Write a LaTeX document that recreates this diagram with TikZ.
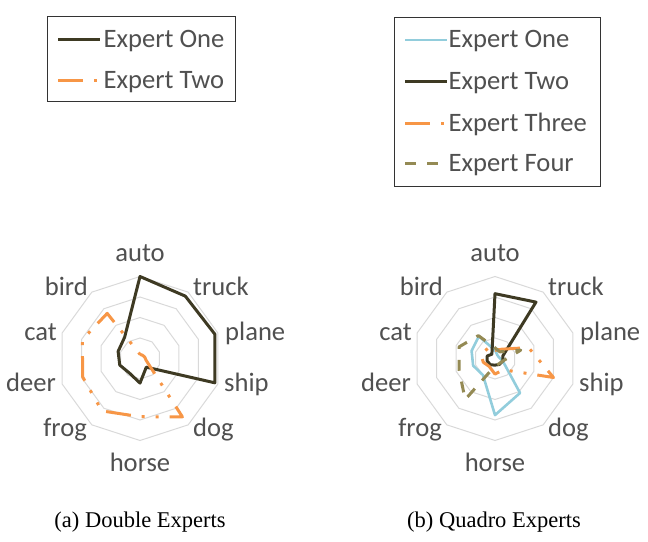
\documentclass[tikz,border=0pt]{standalone}
\usepackage{fontspec}
\setmainfont{Carlito}
\newfontfamily\capfont{Liberation Serif}
\definecolor{txtgray}{RGB}{80,80,80}
\definecolor{gridgray}{RGB}{217,217,217}
\definecolor{darkolive}{RGB}{62,58,35}
\definecolor{orangeline}{RGB}{247,150,70}
\definecolor{lightblueline}{RGB}{146,205,220}
\definecolor{oliveline}{RGB}{148,138,84}
\newcommand\radargrid{%
  \foreach \r in {20.5,41,61.5,82}{%
    \draw[gridline] (90:\r) -- (54:\r) -- (18:\r) -- (-18:\r) -- (-54:\r) -- (-90:\r) -- (-126:\r) -- (-162:\r) -- (162:\r) -- (126:\r) -- cycle;}}
\newcommand\radarlabels[1]{%
  \node[lbl, anchor=base] (#1auto) at (0,97) {auto};
  \node[lbl, anchor=base west] (#1truck) at (53,62.5) {truck};
  \node[lbl, anchor=base west] (#1plane) at (85,17.5) {plane};
  \node[lbl, anchor=base west] (#1ship) at (84,-33.5) {ship};
  \node[lbl, anchor=base west] (#1dog) at (53,-78.5) {dog};
  \node[lbl, anchor=base] (#1horse) at (0,-113) {horse};
  \node[lbl, anchor=base east] (#1frog) at (-53,-78.5) {frog};
  \node[lbl, anchor=base east] (#1deer) at (-84,-33.5) {deer};
  \node[lbl, anchor=base east] (#1cat) at (-83,17.5) {cat};
  \node[lbl, anchor=base east] (#1bird) at (-52,62.5) {bird};}
\begin{document}
\begin{tikzpicture}[x=1pt,y=1pt,
  lbl/.style={font=\fontsize{26.6}{30}\selectfont, text=txtgray, inner sep=0pt},
  captext/.style={font=\capfont\fontsize{22.5}{26}\selectfont, text=black, inner sep=0pt},
  gridline/.style={draw=gridgray, line width=1pt},
  legendbox/.style={draw=black!80, line width=0.9pt},
  darkser/.style={draw=darkolive, line width=3pt, line join=round},
  orangeser/.style={draw=orangeline, line width=3pt, line join=round, line cap=butt,
    dash pattern=on 25pt off 11pt on 3pt off 11pt on 3pt off 11pt},
  blueser/.style={draw=lightblueline, line width=2.6pt, line join=round},
  oliveser/.style={draw=oliveline, line width=3pt, line join=round, line cap=butt,
    dash pattern=on 11pt off 11pt}]
\useasboundingbox (0,0) rectangle (648,541);

% ---------- legend (a)
\draw[legendbox] (47.3,525) rectangle (235,439.3);
\draw[darkser] (58.3,501.7) -- (100,501.7);
\node[lbl, anchor=base west] (la1) at (103.5,493.7) {Expert One};
\draw[orangeser] (58.3,460.3) -- (100,460.3);
\node[lbl, anchor=base west] (la2) at (103.5,452.3) {Expert Two};

% ---------- legend (b)
\draw[legendbox] (394,523.7) rectangle (600.7,355);
\draw[blueser] (405,501) -- (446.7,501);
\node[lbl, anchor=base west] (lb1) at (448.5,493) {Expert One};
\draw[darkser] (405,459.3) -- (446.7,459.3);
\node[lbl, anchor=base west] (lb2) at (448.5,451.3) {Expert Two};
\draw[orangeser] (405,417.7) -- (446.7,417.7);
\node[lbl, anchor=base west] (lb3) at (448.5,409.7) {Expert Three};
\draw[oliveser] (405,377) -- (446.7,377);
\node[lbl, anchor=base west] (lb4) at (448.5,369) {Expert Four};

% ---------- chart (a)
\begin{scope}[shift={(140,182.5)}]
  \radargrid
  \radarlabels{a}
  \draw[darkser] (90:82) -- (54:77.1) -- (18:78.7) -- (-18:78.7) -- (-54:10.7) -- (-90:24.6) -- (-126:18) -- (-162:21.3) -- (162:23) -- (126:26.2) -- cycle;
  \draw[orangeser] (90:4.1) -- (54:4.1) -- (18:4.9) -- (-18:6.6) -- (-54:72.2) -- (-90:58.2) -- (-126:64.8) -- (-162:60.2) -- (162:60.7) -- (126:55.8) -- cycle;
\end{scope}

% ---------- chart (b)
\begin{scope}[shift={(495,182.5)}]
  \radargrid
  \radarlabels{b}
  \draw[blueser] (90:8.2) -- (54:4.1) -- (18:4.1) -- (-18:8.2) -- (-54:42.6) -- (-90:56.6) -- (-126:20.5) -- (-162:23) -- (162:24.6) -- (126:27.5) -- cycle;
  \draw[darkser] (90:64.8) -- (54:69.7) -- (18:8.2) -- (-18:8.2) -- (-54:7.4) -- (-90:6.6) -- (-126:7.8) -- (-162:8.2) -- (162:8.2) -- (126:5.3) -- cycle;
  \draw[orangeser] (90:8.2) -- (54:11.5) -- (18:35.3) -- (-18:61.5) -- (-54:13.9) -- (-90:15.6) -- (-126:9.8) -- (-162:12.3) -- (162:14.8) -- (126:12.3) -- cycle;
  \draw[oliveser] (90:10.7) -- (54:8.2) -- (18:27.1) -- (-18:8.2) -- (-54:6.6) -- (-90:7.4) -- (-126:50.8) -- (-162:37.7) -- (162:37.7) -- (126:28.3) -- cycle;
\end{scope}

% ---------- captions
\node[captext, anchor=base] (capa) at (140,14) {(a) Double Experts};
\node[captext, anchor=base] (capb) at (494,14) {(b) Quadro Experts};
\end{tikzpicture}
\end{document}
